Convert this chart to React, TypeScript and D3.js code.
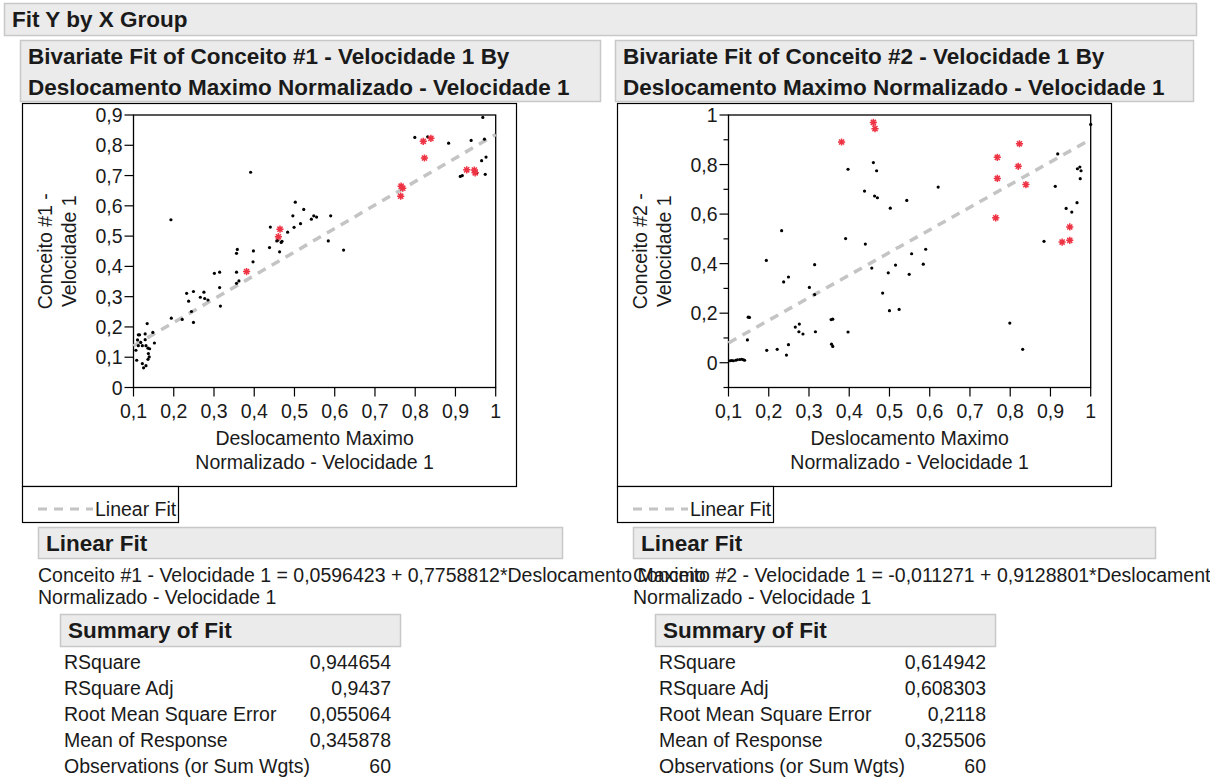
import React from "react";
import * as d3 from "d3";

// Shared X axis ticks (Deslocamento Maximo Normalizado - Velocidade 1)
const xTicks = [0.1, 0.2, 0.3, 0.4, 0.5, 0.6, 0.7, 0.8, 0.9, 1];
const yTicks1 = [0, 0.1, 0.2, 0.3, 0.4, 0.5, 0.6, 0.7, 0.8, 0.9];
const yTicks2Major = [0, 0.2, 0.4, 0.6, 0.8, 1];
const yTicks2Minor = [-0.1, 0.1, 0.3, 0.5, 0.7, 0.9];

// Conceito #1 - Velocidade 1: ordinary rows [x, y]
const c1Points: [number, number][] = [
  [0.968, 0.892], [0.799, 0.826], [0.831, 0.828], [0.883, 0.807], [0.939, 0.816],
  [0.972, 0.82], [0.976, 0.761], [0.965, 0.749], [0.974, 0.704], [0.912, 0.697],
  [0.917, 0.7], [0.953, 0.709], [0.391, 0.711], [0.193, 0.554], [0.502, 0.612],
  [0.523, 0.588], [0.496, 0.567], [0.542, 0.556], [0.548, 0.567], [0.555, 0.563],
  [0.59, 0.567], [0.515, 0.541], [0.499, 0.529], [0.483, 0.513], [0.44, 0.53],
  [0.438, 0.462], [0.456, 0.484], [0.459, 0.487], [0.469, 0.483], [0.467, 0.479],
  [0.463, 0.448], [0.584, 0.484], [0.622, 0.454], [0.356, 0.443], [0.358, 0.456],
  [0.398, 0.451], [0.397, 0.415], [0.356, 0.381], [0.356, 0.344], [0.362, 0.352],
  [0.301, 0.377], [0.314, 0.381], [0.314, 0.33], [0.316, 0.269], [0.232, 0.311],
  [0.249, 0.317], [0.237, 0.285], [0.266, 0.298], [0.275, 0.315], [0.277, 0.294],
  [0.285, 0.289], [0.244, 0.251], [0.249, 0.215], [0.221, 0.225], [0.194, 0.229],
  [0.134, 0.211], [0.148, 0.182], [0.152, 0.147], [0.129, 0.177], [0.112, 0.174],
  [0.115, 0.174], [0.11, 0.157], [0.129, 0.158], [0.106, 0.123], [0.108, 0.09],
  [0.112, 0.138], [0.122, 0.138], [0.131, 0.138], [0.136, 0.13], [0.14, 0.128],
  [0.137, 0.112], [0.139, 0.101], [0.136, 0.093], [0.122, 0.079], [0.125, 0.065],
  [0.131, 0.072], [0.118, 0.149],
];
// Conceito #1 - Velocidade 1: highlighted rows
const c1Marked: [number, number][] = [
  [0.82, 0.813], [0.839, 0.823], [0.823, 0.758], [0.765, 0.665], [0.769, 0.658],
  [0.764, 0.632], [0.928, 0.719], [0.947, 0.718], [0.949, 0.709], [0.46, 0.498],
  [0.464, 0.523], [0.381, 0.383],
];

// Conceito #2 - Velocidade 1: ordinary rows [x, y]
const c2Points: [number, number][] = [
  [1.0, 0.962], [0.918, 0.843], [0.967, 0.783], [0.973, 0.79], [0.976, 0.775],
  [0.974, 0.743], [0.912, 0.712], [0.939, 0.623], [0.953, 0.608], [0.966, 0.646],
  [0.884, 0.49], [0.799, 0.16], [0.831, 0.054], [0.621, 0.709], [0.543, 0.655],
  [0.502, 0.624], [0.46, 0.808], [0.468, 0.775], [0.397, 0.781], [0.438, 0.693],
  [0.463, 0.673], [0.47, 0.666], [0.391, 0.501], [0.44, 0.479], [0.456, 0.382],
  [0.497, 0.363], [0.515, 0.394], [0.549, 0.357], [0.555, 0.44], [0.59, 0.458],
  [0.584, 0.398], [0.483, 0.281], [0.5, 0.21], [0.524, 0.215], [0.397, 0.124],
  [0.232, 0.533], [0.194, 0.413], [0.314, 0.396], [0.237, 0.326], [0.249, 0.346],
  [0.301, 0.304], [0.314, 0.275], [0.316, 0.125], [0.355, 0.174], [0.359, 0.176],
  [0.356, 0.075], [0.359, 0.066], [0.266, 0.144], [0.276, 0.156], [0.275, 0.125],
  [0.285, 0.116], [0.221, 0.054], [0.195, 0.05], [0.249, 0.073], [0.244, 0.031],
  [0.149, 0.184], [0.152, 0.183], [0.147, 0.092], [0.104, 0.008], [0.108, 0.009],
  [0.112, 0.008], [0.118, 0.01], [0.122, 0.012], [0.128, 0.013], [0.133, 0.014],
  [0.137, 0.012], [0.14, 0.01],
];
// Conceito #2 - Velocidade 1: highlighted rows
const c2Marked: [number, number][] = [
  [0.46, 0.97], [0.464, 0.945], [0.381, 0.891], [0.823, 0.884], [0.768, 0.829],
  [0.82, 0.793], [0.768, 0.744], [0.839, 0.719], [0.764, 0.585], [0.948, 0.548],
  [0.929, 0.487], [0.948, 0.494],
];

// Linear fit coefficients [intercept, slope]
const fit1 = [0.0596423, 0.7758812];
const fit2 = [-0.011271, 0.9128801];

const summaryLabels = [
  "RSquare",
  "RSquare Adj",
  "Root Mean Square Error",
  "Mean of Response",
  "Observations (or Sum Wgts)",
];
const summary1 = ["0,944654", "0,9437", "0,055064", "0,345878", "60"];
const summary2 = ["0,614942", "0,608303", "0,2118", "0,325506", "60"];

const FONT = "'Liberation Sans', Arial, sans-serif";
const TEXT = "#1a1a1a";
const HEAD_FILL = "#ebebeb";
const HEAD_STROKE = "#c8c8c8";
const FIT_COLOR = "#c4c4c4";
const MARK_COLOR = "#ee3344";
const FS = 19.5; // body text
const FS_HEAD = 22.5; // outline headers

const fmt = (v: number) => {
  if (v === 0) return "0";
  if (v === 1) return "1";
  return d3.format(".1f")(v).replace(".", ",");
};

function Asterisk({ x, y }: { x: number; y: number }) {
  const r = 3.6;
  const d = r * Math.SQRT1_2;
  const p = `M${x},${y - r}L${x},${y + r}M${x - r},${y}L${x + r},${y}M${x - d},${y - d}L${x + d},${y + d}M${x - d},${y + d}L${x + d},${y - d}`;
  return <path d={p} stroke={MARK_COLOR} strokeWidth={1.5} fill="none" />;
}

function Header({ x, y, w, h, lines }: { x: number; y: number; w: number; h: number; lines: string[] }) {
  return (
    <g>
      <rect x={x + 0.5} y={y + 0.5} width={w} height={h} fill={HEAD_FILL} stroke={HEAD_STROKE} strokeWidth={1.5} />
      {lines.map((t, i) => (
        <text key={i} x={x + 8} y={y + 24 + i * 31} fontSize={FS_HEAD} fontWeight="bold" fill={TEXT}>
          {t}
        </text>
      ))}
    </g>
  );
}

type PanelProps = {
  ox: number;
  title: string[];
  yLabel: string[];
  points: [number, number][];
  marked: [number, number][];
  fit: number[];
  yDomain: [number, number];
  yMajor: number[];
  yMinor: number[];
  equation: string;
  summary: string[];
};

function Panel(props: PanelProps) {
  const { ox, title, yLabel, points, marked, fit, yDomain, yMajor, yMinor, equation, summary } = props;
  const left = ox + 111.5;
  const right = ox + 473.7;
  const top = 115;
  const bottom = 387.5;
  const x = d3.scaleLinear().domain([0.1, 1]).range([left, right]);
  const y = d3.scaleLinear().domain(yDomain).range([bottom, top]);
  const fitLine = d3
    .line<number>()
    .x((v) => x(v))
    .y((v) => y(fit[0] + fit[1] * v));
  const midX = (left + right) / 2;
  const midY = (top + bottom) / 2;

  return (
    <g>
      <Header x={ox - 2} y={40} w={ox === 22 ? 580 : 578} h={61} lines={title} />
      {/* outer report frame */}
      <rect x={ox + 0.5} y={103.5} width={494} height={383} fill="#fff" stroke="#000" strokeWidth={1.2} />
      {/* y axis title */}
      <text transform={`translate(${ox + 30},${midY}) rotate(-90)`} textAnchor="middle" fontSize={FS} fill={TEXT}>
        <tspan x={0} dy={0}>{yLabel[0]}</tspan>
        <tspan x={0} dy={24}>{yLabel[1]}</tspan>
      </text>
      {/* data area */}
      <rect x={left} y={top} width={right - left} height={bottom - top} fill="#fff" stroke="#000" strokeWidth={1.3} />
      {yMajor.map((t) => (
        <g key={`ym${t}`}>
          <line x1={left - 9} x2={left} y1={y(t)} y2={y(t)} stroke="#000" strokeWidth={1.2} />
          <text x={left - 11} y={y(t)} dy="0.36em" textAnchor="end" fontSize={FS} fill={TEXT}>
            {fmt(t)}
          </text>
        </g>
      ))}
      {yMinor.map((t) => (
        <line key={`yn${t}`} x1={left - 5} x2={left} y1={y(t)} y2={y(t)} stroke="#000" strokeWidth={1.2} />
      ))}
      {xTicks.map((t) => (
        <g key={`x${t}`}>
          <line x1={x(t)} x2={x(t)} y1={bottom} y2={bottom + 9} stroke="#000" strokeWidth={1.2} />
          <text x={x(t)} y={bottom + 30} textAnchor="middle" fontSize={FS} fill={TEXT}>
            {fmt(t)}
          </text>
        </g>
      ))}
      <text x={midX} y={bottom + 57} textAnchor="middle" fontSize={FS} fill={TEXT}>
        Deslocamento Maximo
      </text>
      <text x={midX} y={bottom + 81} textAnchor="middle" fontSize={FS} fill={TEXT}>
        Normalizado - Velocidade 1
      </text>
      {/* fitted line */}
      <path d={fitLine([0.1, 1]) || ""} stroke={FIT_COLOR} strokeWidth={3.5} strokeDasharray="9,7" fill="none" />
      {points.map(([px, py], i) => (
        <circle key={`p${i}`} cx={x(px)} cy={y(py)} r={1.6} fill="#000" />
      ))}
      {marked.map(([px, py], i) => (
        <Asterisk key={`m${i}`} x={x(px)} y={y(py)} />
      ))}
      {/* legend */}
      <rect x={ox + 0.5} y={486.5} width={156} height={36} fill="#fff" stroke="#000" strokeWidth={1.2} />
      <line x1={ox + 16} x2={ox + 71} y1={509} y2={509} stroke={FIT_COLOR} strokeWidth={3} strokeDasharray="9,7" />
      <text x={ox + 73} y={516} fontSize={FS} fill={TEXT}>
        Linear Fit
      </text>
      {/* linear fit report */}
      <Header x={ox + 16} y={527} w={ox === 22 ? 524 : 522} h={31} lines={["Linear Fit"]} />
      <text x={ox + 16} y={582} fontSize={FS} fill={TEXT}>
        {equation}
      </text>
      <text x={ox + 16} y={604} fontSize={FS} fill={TEXT}>
        Normalizado - Velocidade 1
      </text>
      {/* summary of fit */}
      <Header x={ox + 38} y={614} w={340} h={32} lines={["Summary of Fit"]} />
      {summaryLabels.map((lab, i) => (
        <g key={lab}>
          <text x={ox + 42} y={669 + i * 26} fontSize={FS} fill={TEXT}>
            {lab}
          </text>
          <text x={ox + 369} y={669 + i * 26} fontSize={FS} fill={TEXT} textAnchor="end">
            {summary[i]}
          </text>
        </g>
      ))}
    </g>
  );
}

export default function App() {
  return (
    <svg
      width={1210}
      height={778}
      style={{ position: "absolute", left: 0, top: 0, background: "#fff" }}
      fontFamily={FONT}
    >
      <rect x={0} y={0} width={1210} height={778} fill="#fff" />
      <Header x={4} y={3} w={1192} h={32} lines={["Fit Y by X Group"]} />
      <Panel
        ox={22}
        title={["Bivariate Fit of Conceito #1 - Velocidade 1 By", "Deslocamento Maximo Normalizado - Velocidade 1"]}
        yLabel={["Conceito #1 -", "Velocidade 1"]}
        points={c1Points}
        marked={c1Marked}
        fit={fit1}
        yDomain={[0, 0.9]}
        yMajor={yTicks1}
        yMinor={[]}
        equation={"Conceito #1 - Velocidade 1 = 0,0596423 + 0,7758812*Deslocamento Maximo"}
        summary={summary1}
      />
      <Panel
        ox={617}
        title={["Bivariate Fit of Conceito #2 - Velocidade 1 By", "Deslocamento Maximo Normalizado - Velocidade 1"]}
        yLabel={["Conceito #2 -", "Velocidade 1"]}
        points={c2Points}
        marked={c2Marked}
        fit={fit2}
        yDomain={[-0.1, 1]}
        yMajor={yTicks2Major}
        yMinor={yTicks2Minor}
        equation={"Conceito #2 - Velocidade 1 = -0,011271 + 0,9128801*Deslocamento Maximo"}
        summary={summary2}
      />
    </svg>
  );
}
